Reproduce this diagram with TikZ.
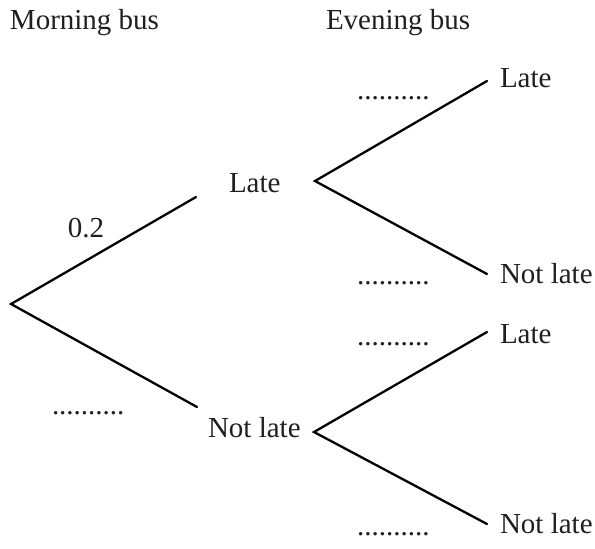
\documentclass[tikz,border=0pt]{standalone}
\usepackage{fontspec}
\setmainfont{Liberation Serif}
\begin{document}
\begin{tikzpicture}[x=0.5pt,y=-0.5pt,
  lbl/.style={anchor=base west,inner sep=0pt,outer sep=0pt,text=black!88,font=\fontsize{14.5}{17}\selectfont},
  branch/.style={line width=1.15pt,line cap=round,line join=miter}]
\useasboundingbox (0,0) rectangle (595,548);
% headings
\node[lbl] (hm) at (10,29) {Morning bus};
\node[lbl] (he) at (326,29) {Evening bus};
% first stage
\coordinate (root) at (11,304);
\coordinate (e1) at (196,197);
\coordinate (e2) at (197,407);
\node[lbl] (late) at (229,192) {Late};
\node[lbl] (notlate) at (208,437) {Not late};
\node[lbl] (p02) at (68,237) {0.2};
\node[lbl] (d0) at (52,414) {..........};
% second stage
\coordinate (v1) at (315,181);
\coordinate (v2) at (314,432);
\coordinate (a1) at (487,81);
\coordinate (a2) at (487,274);
\coordinate (a3) at (487,332);
\coordinate (a4) at (487,524);
\node[lbl] (ll) at (500,87) {Late};
\node[lbl] (ln) at (500,283) {Not late};
\node[lbl] (nl) at (500,343) {Late};
\node[lbl] (nn) at (500,533) {Not late};
\node[lbl] (d1) at (357,99) {..........};
\node[lbl] (d2) at (357,284) {..........};
\node[lbl] (d3) at (357,345) {..........};
\node[lbl] (d4) at (357,535) {..........};
% branches
\draw[branch] (e1) -- (root) -- (e2);
\draw[branch] (a1) -- (v1) -- (a2);
\draw[branch] (a3) -- (v2) -- (a4);
\end{tikzpicture}
\end{document}
